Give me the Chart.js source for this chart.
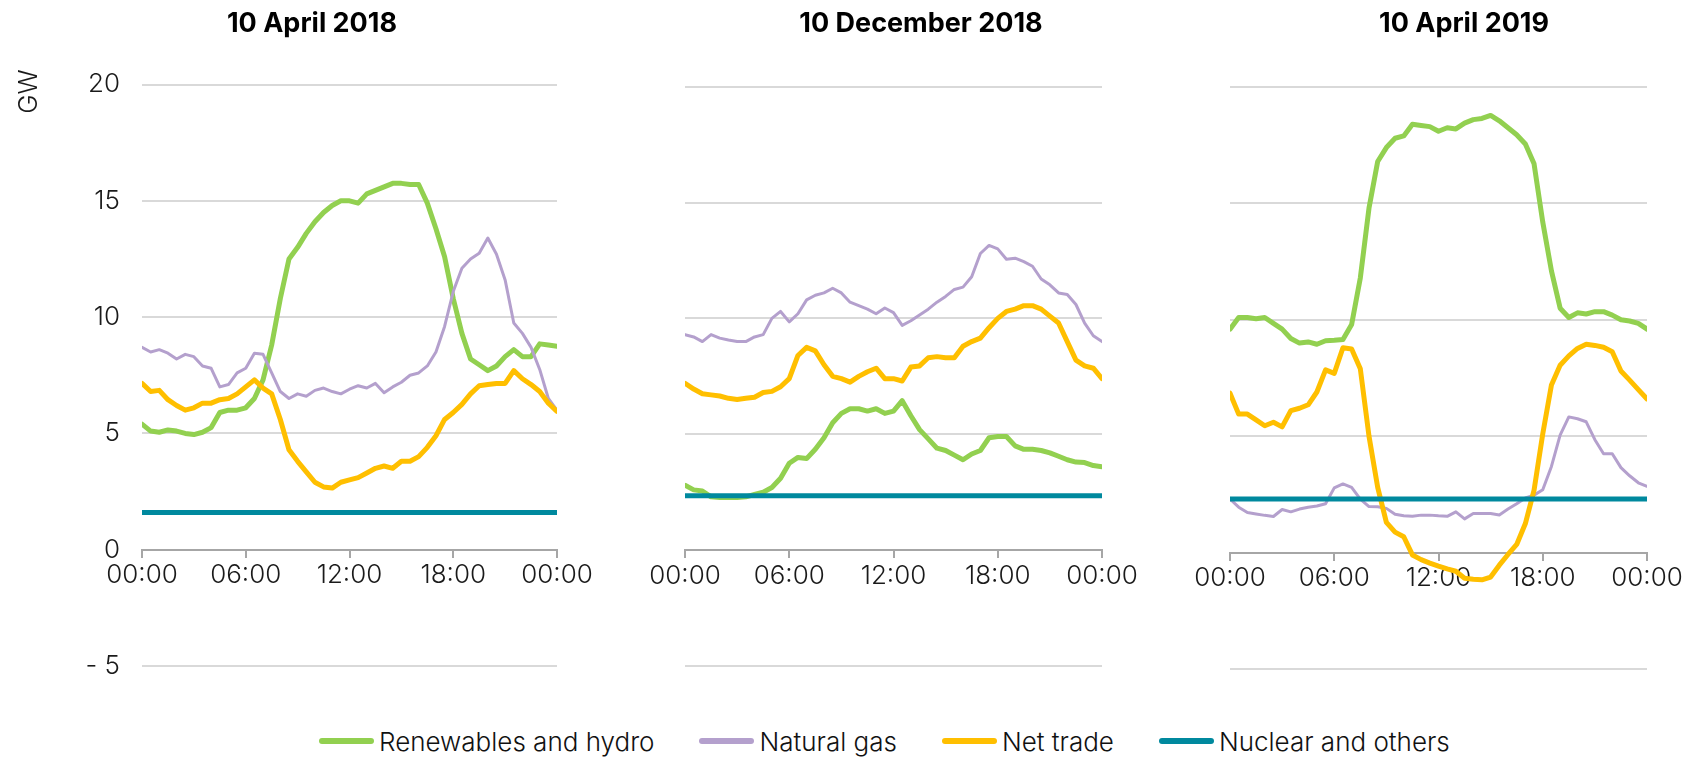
<!DOCTYPE html>
<html>
<head>
<meta charset="utf-8">
<script src="https://cdn.jsdelivr.net/npm/chart.js@4.4.1/dist/chart.umd.min.js"></script>
<style>
  html, body { margin: 0; padding: 0; background: #fff; width: 1697px; height: 757px; overflow: hidden; }
  body { position: relative; }
  canvas { position: absolute; top: 0; }
  #legend { position: absolute; left: 319px; top: 726px; height: 30px; display: flex; align-items: center;
            font-family: 'Inter', 'Roboto', sans-serif; font-weight: 300; font-size: 26px; color: #111; white-space: nowrap; }
  #legend .item { display: flex; align-items: center; margin-right: 45px; }
  #legend .swatch { width: 55px; height: 6px; border-radius: 3px; margin-right: 5px; }
</style>
</head>
<body>
<canvas id="c1" width="624" height="700" style="left:0px"></canvas>
<canvas id="c2" width="594" height="700" style="left:624px"></canvas>
<canvas id="c3" width="548" height="700" style="left:1190px"></canvas>
<div id="legend"></div>
<script>
// half-hourly time of day, hours
const times = [0, 0.5, 1, 1.5, 2, 2.5, 3, 3.5, 4, 4.5, 5, 5.5, 6, 6.5, 7, 7.5, 8, 8.5, 9, 9.5, 10, 10.5, 11, 11.5,
    12, 12.5, 13, 13.5, 14, 14.5, 15, 15.5, 16, 16.5, 17, 17.5, 18, 18.5, 19, 19.5, 20, 20.5, 21, 21.5, 22, 22.5, 23, 23.5, 24];

const xTicks = [0, 6, 12, 18, 24];
const xTickLabels = ['00:00', '06:00', '12:00', '18:00', '00:00'];
const yTicks = [-5, 0, 5, 10, 15, 20];
const yTickLabels = ['- 5', '0', '5', '10', '15', '20'];

const panelTitles = ['10 April 2018', '10 December 2018', '10 April 2019'];
const seriesNames = ['Renewables and hydro', 'Natural gas', 'Net trade', 'Nuclear and others'];

// 10 April 2018
const renewablesApr18 = [5.4, 5.1, 5.05, 5.15, 5.1, 5.0, 4.95, 5.05, 5.25, 5.9, 6.0, 6.0, 6.1, 6.5, 7.3, 8.8, 10.8, 12.5, 13.0, 13.6, 14.1, 14.5, 14.8, 15.0,
    15.0, 14.9, 15.3, 15.45, 15.6, 15.75, 15.75, 15.7, 15.7, 14.9, 13.8, 12.6, 10.8, 9.3, 8.2, 7.95, 7.7, 7.9, 8.3, 8.6, 8.3, 8.3, 8.85, 8.8, 8.75];
const gasApr18 = [8.7, 8.5, 8.6, 8.45, 8.2, 8.4, 8.3, 7.9, 7.8, 7.0, 7.1, 7.6, 7.8, 8.45, 8.4, 7.6, 6.8, 6.5, 6.7, 6.6, 6.85, 6.95, 6.8, 6.7,
    6.9, 7.05, 6.95, 7.15, 6.75, 7.0, 7.2, 7.5, 7.6, 7.9, 8.5, 9.6, 11.1, 12.1, 12.5, 12.75, 13.4, 12.7, 11.6, 9.75, 9.3, 8.7, 7.75, 6.5, 6.0];
const tradeApr18 = [7.15, 6.8, 6.85, 6.45, 6.2, 6.0, 6.1, 6.3, 6.3, 6.45, 6.5, 6.7, 7.0, 7.3, 6.95, 6.7, 5.6, 4.3, 3.8, 3.35, 2.9, 2.7, 2.65, 2.9,
    3.0, 3.1, 3.3, 3.5, 3.6, 3.5, 3.8, 3.8, 4.0, 4.4, 4.9, 5.6, 5.9, 6.25, 6.7, 7.05, 7.1, 7.15, 7.15, 7.7, 7.35, 7.1, 6.8, 6.3, 5.95];
const nuclearApr18 = [1.6, 1.6, 1.6, 1.6, 1.6, 1.6, 1.6, 1.6, 1.6, 1.6, 1.6, 1.6, 1.6, 1.6, 1.6, 1.6, 1.6, 1.6, 1.6, 1.6, 1.6, 1.6, 1.6, 1.6,
    1.6, 1.6, 1.6, 1.6, 1.6, 1.6, 1.6, 1.6, 1.6, 1.6, 1.6, 1.6, 1.6, 1.6, 1.6, 1.6, 1.6, 1.6, 1.6, 1.6, 1.6, 1.6, 1.6, 1.6, 1.6];

// 10 December 2018
const renewablesDec18 = [2.8, 2.6, 2.55, 2.3, 2.27, 2.27, 2.27, 2.3, 2.4, 2.5, 2.7, 3.1, 3.75, 4.0, 3.95, 4.35, 4.85, 5.5, 5.9, 6.1, 6.1, 6.0, 6.1, 5.9,
    6.0, 6.45, 5.8, 5.2, 4.8, 4.4, 4.3, 4.1, 3.9, 4.15, 4.3, 4.85, 4.9, 4.9, 4.5, 4.35, 4.35, 4.3, 4.2, 4.05, 3.9, 3.8, 3.78, 3.65, 3.6];
const gasDec18 = [9.3, 9.2, 9.0, 9.3, 9.15, 9.07, 9.0, 9.0, 9.2, 9.3, 10.0, 10.3, 9.85, 10.2, 10.8, 11.0, 11.1, 11.3, 11.1, 10.7, 10.55, 10.4, 10.2, 10.45,
    10.25, 9.7, 9.9, 10.15, 10.4, 10.7, 10.95, 11.25, 11.35, 11.8, 12.8, 13.15, 13.0, 12.55, 12.6, 12.45, 12.25, 11.7, 11.45, 11.1, 11.03, 10.6, 9.8, 9.25, 9.0];
const tradeDec18 = [7.2, 6.95, 6.75, 6.7, 6.65, 6.55, 6.5, 6.55, 6.6, 6.8, 6.85, 7.05, 7.4, 8.4, 8.75, 8.6, 8.0, 7.5, 7.4, 7.25, 7.5, 7.7, 7.85, 7.4,
    7.4, 7.3, 7.9, 7.95, 8.3, 8.35, 8.3, 8.3, 8.8, 9.0, 9.15, 9.6, 10.0, 10.3, 10.4, 10.55, 10.55, 10.4, 10.1, 9.8, 9.0, 8.2, 7.95, 7.85, 7.4];
const nuclearDec18 = [2.35, 2.35, 2.35, 2.35, 2.35, 2.35, 2.35, 2.35, 2.35, 2.35, 2.35, 2.35, 2.35, 2.35, 2.35, 2.35, 2.35, 2.35, 2.35, 2.35, 2.35, 2.35, 2.35, 2.35,
    2.35, 2.35, 2.35, 2.35, 2.35, 2.35, 2.35, 2.35, 2.35, 2.35, 2.35, 2.35, 2.35, 2.35, 2.35, 2.35, 2.35, 2.35, 2.35, 2.35, 2.35, 2.35, 2.35, 2.35, 2.35];

// 10 April 2019
const renewablesApr19 = [9.6, 10.1, 10.1, 10.05, 10.1, 9.85, 9.6, 9.2, 9.0, 9.05, 8.95, 9.1, 9.12, 9.15, 9.8, 11.8, 14.8, 16.8, 17.4, 17.8, 17.9, 18.4, 18.35, 18.3,
    18.1, 18.25, 18.2, 18.45, 18.6, 18.65, 18.78, 18.55, 18.25, 17.95, 17.55, 16.7, 14.2, 12.1, 10.5, 10.1, 10.3, 10.25, 10.35, 10.35, 10.2, 10.0, 9.95, 9.85, 9.6];
const gasApr19 = [2.3, 1.95, 1.72, 1.66, 1.6, 1.55, 1.85, 1.75, 1.87, 1.95, 2.0, 2.1, 2.78, 2.95, 2.8, 2.3, 1.98, 1.97, 1.9, 1.65, 1.58, 1.56, 1.61, 1.61,
    1.58, 1.56, 1.75, 1.45, 1.68, 1.68, 1.68, 1.62, 1.87, 2.1, 2.35, 2.47, 2.7, 3.7, 5.05, 5.83, 5.75, 5.62, 4.85, 4.25, 4.25, 3.65, 3.3, 3.0, 2.85];
const tradeApr19 = [6.85, 5.95, 5.95, 5.7, 5.45, 5.6, 5.4, 6.1, 6.2, 6.35, 6.9, 7.85, 7.7, 8.8, 8.75, 7.9, 5.0, 2.8, 1.3, 0.88, 0.68, -0.1, -0.3, -0.45,
    -0.58, -0.7, -0.8, -1.1, -1.14, -1.17, -1.05, -0.54, -0.08, 0.35, 1.25, 2.68, 5.1, 7.2, 8.05, 8.45, 8.77, 8.95, 8.9, 8.82, 8.63, 7.8, 7.41, 7.0, 6.6];
const nuclearApr19 = [2.3, 2.3, 2.3, 2.3, 2.3, 2.3, 2.3, 2.3, 2.3, 2.3, 2.3, 2.3, 2.3, 2.3, 2.3, 2.3, 2.3, 2.3, 2.3, 2.3, 2.3, 2.3, 2.3, 2.3,
    2.3, 2.3, 2.3, 2.3, 2.3, 2.3, 2.3, 2.3, 2.3, 2.3, 2.3, 2.3, 2.3, 2.3, 2.3, 2.3, 2.3, 2.3, 2.3, 2.3, 2.3, 2.3, 2.3, 2.3, 2.3];

const panelSeries = [
    [renewablesApr18, gasApr18, tradeApr18, nuclearApr18],
    [renewablesDec18, gasDec18, tradeDec18, nuclearDec18],
    [renewablesApr19, gasApr19, tradeApr19, nuclearApr19]
];

// styles
const seriesColors = ['#92d050', '#b4a0cd', '#ffbf00', '#00899e'];
const seriesWidths = [5, 3, 5, 5];
const fontFamily = "'Inter', 'Roboto', sans-serif";

// a little headroom above the 20 line so the GW title sits where the original has it
const yAxisMax = 20.65;

const panelLayout = [
    { id: 'c1', left: 142, right: 67, titleGap: 29.2, bottomPad: 34, labels: true },
    { id: 'c2', left: 61, right: 116, titleGap: 31.4, bottomPad: 34, labels: false },
    { id: 'c3', left: 40, right: 91, titleGap: 31.7, bottomPad: 31, labels: false }
];

function draw(p) {
    const layout = panelLayout[p];

    const datasets = seriesNames.map((name, i) => ({
        label: name,
        data: panelSeries[p][i],
        borderColor: seriesColors[i],
        backgroundColor: seriesColors[i],
        borderWidth: seriesWidths[i],
        borderCapStyle: 'round',
        borderJoinStyle: 'round',
        pointRadius: 0,
        tension: 0,
        order: seriesNames.length - i,
        xAxisID: 'x',
        yAxisID: 'y'
    }));

    new Chart(document.getElementById(layout.id), {
        type: 'line',
        data: {
            labels: times,
            datasets: datasets
        },
        options: {
            responsive: false,
            animation: false,
            events: [],
            layout: { autoPadding: false, padding: { top: 0, left: 0, right: 0, bottom: layout.bottomPad } },
            plugins: {
                legend: { display: false },
                tooltip: { enabled: false },
                title: {
                    display: true,
                    text: panelTitles[p],
                    color: '#000',
                    font: { family: fontFamily, size: 27, weight: 700 },
                    padding: { top: 7.8, bottom: layout.titleGap }
                }
            },
            scales: {
                x: {
                    type: 'linear',
                    position: { y: 0 },
                    min: xTicks[0],
                    max: xTicks[xTicks.length - 1],
                    afterBuildTicks: s => { s.ticks = xTicks.map(v => ({ value: v })); },
                    afterFit: s => { s.paddingLeft = 0; s.paddingRight = 0; },
                    grid: { drawOnChartArea: false, drawTicks: true, tickLength: 7, tickColor: '#a6a6a6', lineWidth: 2 },
                    border: { display: true, color: '#a6a6a6', width: 2 },
                    ticks: {
                        padding: 3,
                        maxRotation: 0,
                        autoSkip: false,
                        color: '#1a1a1a',
                        font: { family: fontFamily, size: 26, weight: 300 },
                        callback: v => xTickLabels[xTicks.indexOf(v)]
                    }
                },
                y: {
                    type: 'linear',
                    position: 'left',
                    min: yTicks[0],
                    max: yAxisMax,
                    afterBuildTicks: s => { s.ticks = yTicks.map(v => ({ value: v })); },
                    afterFit: s => { s.width = layout.left; s.paddingTop = 0; s.paddingBottom = 0; },
                    grid: { color: '#d9d9d9', lineWidth: 2, drawTicks: false },
                    border: { display: false },
                    title: {
                        display: layout.labels,
                        text: 'GW',
                        align: 'end',
                        color: '#1a1a1a',
                        padding: { top: 14, bottom: 0 },
                        font: { family: fontFamily, size: 26, weight: 300 }
                    },
                    ticks: {
                        display: layout.labels,
                        padding: 22,
                        color: '#1a1a1a',
                        font: { family: fontFamily, size: 26, weight: 300 },
                        callback: v => yTickLabels[yTicks.indexOf(v)]
                    }
                },
                pad: {
                    type: 'linear',
                    position: 'right',
                    afterFit: s => { s.width = layout.right; },
                    grid: { display: false },
                    border: { display: false },
                    ticks: { display: false }
                }
            }
        }
    });
}

panelTitles.forEach((t, p) => draw(p));

// shared legend
const legend = document.getElementById('legend');
seriesNames.forEach((name, i) => {
    const item = document.createElement('div');
    item.className = 'item';
    const sw = document.createElement('span');
    sw.className = 'swatch';
    sw.style.background = seriesColors[i];
    const txt = document.createElement('span');
    txt.textContent = name;
    item.appendChild(sw);
    item.appendChild(txt);
    legend.appendChild(item);
});
</script>
</body>
</html>
